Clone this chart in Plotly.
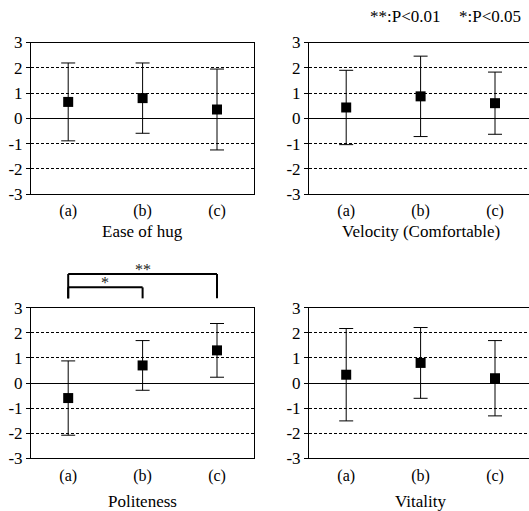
import plotly.graph_objects as go

categories = ["(a)", "(b)", "(c)"]
titles = ["Ease of hug", "Velocity (Comfortable)", "Politeness", "Vitality"]

ease_mean = [0.65, 0.80, 0.35]
ease_err = [1.54, 1.39, 1.60]
velocity_mean = [0.43, 0.87, 0.60]
velocity_err = [1.47, 1.59, 1.23]
politeness_mean = [-0.60, 0.70, 1.30]
politeness_err = [1.48, 0.99, 1.07]
vitality_mean = [0.33, 0.80, 0.19]
vitality_err = [1.84, 1.41, 1.50]

y_ticks = [-3, -2, -1, 0, 1, 2, 3]
y_tick_labels = ["-3", "-2", "-1", "0", "1", "2", "3"]

# significance brackets for Politeness: (from, to, label)
sig_pairs = [("(a)", "(b)", "*"), ("(a)", "(c)", "**")]
legend_texts = ["**:P<0.01", "*:P<0.05"]

W, H = 529, 511
FONT = "Liberation Serif, Times New Roman, serif"

fig = go.Figure()


def px_x(v):
    return v / W


def px_y(v):
    return 1 - v / H


panels = [
    (ease_mean, ease_err, "x", "y", (31, 254), (42.5, 194.2), True),
    (velocity_mean, velocity_err, "x2", "y2", (309, 529), (42.5, 194.2), False),
    (politeness_mean, politeness_err, "x3", "y3", (31, 254), (307.7, 458.3), True),
    (vitality_mean, vitality_err, "x4", "y4", (309, 529), (307.7, 458.3), False),
]

layout_axes = {}
cat_w = 74.4
for i, (m, e, xa, ya, (x0, x1), (y0, y1), full) in enumerate(panels):
    fig.add_trace(go.Scatter(
        x=categories, y=m, xaxis=xa, yaxis=ya, mode="markers",
        marker=dict(symbol="square", size=10, color="black"),
        error_y=dict(type="data", array=e, visible=True, color="black",
                     thickness=1, width=7),
        showlegend=False, cliponaxis=False,
    ))
    xname = "xaxis" if xa == "x" else "xaxis" + xa[1:]
    yname = "yaxis" if ya == "y" else "yaxis" + ya[1:]
    rng_end = -0.5 + (x1 - x0) / cat_w
    layout_axes[xname] = dict(
        domain=[px_x(x0), px_x(x1)], anchor=ya, type="category",
        range=[-0.5, rng_end], showgrid=False, zeroline=False,
        showline=True, linecolor="black", linewidth=1, mirror=True,
        ticks="", tickfont=dict(family=FONT, size=16, color="black"),
        ticklabelstandoff=2, automargin=False,
    )
    layout_axes[yname] = dict(
        domain=[px_y(y1), px_y(y0)], anchor=xa, range=[-3, 3],
        tickvals=y_ticks, ticktext=y_tick_labels,
        ticks="outside", ticklen=4, tickcolor="black",
        showline=True, linecolor="black", linewidth=1, mirror=full,
        showgrid=True, gridcolor="black", gridwidth=1, griddash="3px,2px",
        zeroline=True, zerolinecolor="black", zerolinewidth=1,
        tickfont=dict(family=FONT, size=17, color="black"),
        automargin=False,
    )
    cx = x0 + 3 * cat_w / 2
    if i < 2:
        fig.add_annotation(
            text=titles[i], xref="paper", yref="paper",
            x=px_x(cx), y=px_y(231), xanchor="center", yanchor="middle",
            showarrow=False, font=dict(family=FONT, size=17, color="black"),
        )
    else:
        fig.add_annotation(
            text=titles[i], xref="paper", yref="paper",
            x=px_x(cx), y=0, xanchor="center", yanchor="bottom", yshift=-2,
            showarrow=False, font=dict(family=FONT, size=17, color="black"),
        )

fig.update_layout(**layout_axes)

# significance brackets on Politeness panel
bracket_levels = [1.135, 1.224]
drop_level = 1.062
for (a, b, lab), lvl in zip(sig_pairs, bracket_levels):
    ia, ib = categories.index(a), categories.index(b)
    for xx in (ia, ib):
        fig.add_shape(type="line", xref="x3", yref="y3 domain",
                      x0=xx, x1=xx, y0=drop_level, y1=lvl,
                      line=dict(color="black", width=2))
    fig.add_shape(type="line", xref="x3", yref="y3 domain",
                  x0=ia, x1=ib, y0=lvl, y1=lvl,
                  line=dict(color="black", width=2))
    fig.add_annotation(text=lab, xref="x3", yref="y3 domain",
                       x=(ia + ib) / 2, y=lvl, yanchor="bottom", yshift=-6,
                       showarrow=False,
                       font=dict(family=FONT, size=16, color="#222222"))

# significance legend
for t, xp in zip(legend_texts, [368, 456.5]):
    fig.add_annotation(text=t, xref="paper", yref="paper",
                       x=px_x(xp), y=px_y(17), xanchor="left", yanchor="middle",
                       showarrow=False,
                       font=dict(family=FONT, size=17, color="black"))

fig.update_layout(
    width=W, height=H, margin=dict(l=0, r=0, t=0, b=0, pad=0),
    paper_bgcolor="white", plot_bgcolor="white", showlegend=False,
)

fig.write_html("out.html", config={"displayModeBar": False},
               post_script="document.body.style.margin='0';document.body.style.overflow='hidden';")
